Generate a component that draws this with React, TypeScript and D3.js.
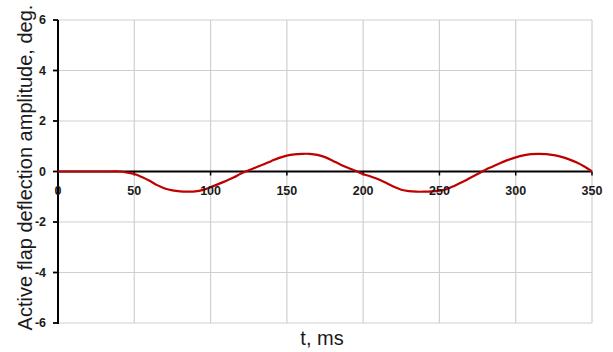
import React from "react";
import * as d3 from "d3";

const times: number[] = [
  0, 5, 10, 15, 20, 25, 30, 35, 40, 45, 50, 55, 60, 65, 70, 75, 80, 85, 90, 95,
  100, 105, 110, 115, 120, 125, 130, 135, 140, 145, 150, 155, 160, 165, 170, 175,
  180, 185, 190, 195, 200, 205, 210, 215, 220, 225, 230, 235, 240, 245, 250, 255,
  260, 265, 270, 275, 280, 285, 290, 295, 300, 305, 310, 315, 320, 325, 330, 335,
  340, 345, 350,
];
const amplitude: number[] = [
  0, 0, 0, 0, 0, 0, 0, 0, 0, -0.04, -0.1, -0.22, -0.37, -0.54, -0.67, -0.75, -0.79, -0.8, -0.79, -0.73,
  -0.62, -0.5, -0.38, -0.24, -0.08, 0.05, 0.17, 0.29, 0.42, 0.54, 0.63, 0.68, 0.7, 0.7, 0.66, 0.57,
  0.43, 0.28, 0.15, 0.03, -0.1, -0.2, -0.31, -0.45, -0.6, -0.72, -0.78, -0.8, -0.8, -0.79, -0.76, -0.69,
  -0.56, -0.42, -0.26, -0.1, 0.06, 0.2, 0.34, 0.46, 0.56, 0.64, 0.69, 0.7, 0.69, 0.65, 0.58, 0.48,
  0.36, 0.2, 0.0,
];
const xTicks: number[] = [0, 50, 100, 150, 200, 250, 300, 350];
const yTicks: number[] = [-6, -4, -2, 0, 2, 4, 6];
const xTitle = "t, ms";
const yTitle = "Active flap deflection amplitude, deg.";

const W = 613;
const H = 352;
const M = { left: 58, right: 592, top: 20, bottom: 323 };

export default function App() {
  const x = d3.scaleLinear().domain([0, 350]).range([M.left, M.right]);
  const y = d3.scaleLinear().domain([-6, 6]).range([M.bottom, M.top]);
  const pts: [number, number][] = times.map((t, i) => [t, amplitude[i]]);
  const line = d3
    .line<[number, number]>()
    .x((d) => x(d[0]))
    .y((d) => y(d[1]))
    .curve(d3.curveCatmullRom.alpha(0.5));
  const tickFont = "'Liberation Sans', Arial, sans-serif";
  return (
    <svg
      width={W}
      height={H}
      style={{ position: "absolute", left: 0, top: 0, background: "#fff" }}
    >
      {xTicks.filter((t) => t > 0).map((t) => (
        <line key={"gx" + t} x1={x(t)} x2={x(t)} y1={y(6)} y2={y(-6)} stroke="#cfcfcf" strokeWidth={1.2} />
      ))}
      {yTicks.map((t) => (
        <line key={"gy" + t} x1={x(0)} x2={x(350)} y1={y(t)} y2={y(t)} stroke="#cfcfcf" strokeWidth={1.2} />
      ))}
      <line x1={x(0)} x2={x(350)} y1={y(0)} y2={y(0)} stroke="#000" strokeWidth={1.8} />
      {xTicks.map((t) => (
        <line key={"tx" + t} x1={x(t)} x2={x(t)} y1={y(0)} y2={y(0) + 4} stroke="#000" strokeWidth={1.5} />
      ))}
      <line x1={x(0)} x2={x(0)} y1={y(6)} y2={y(-6) + 1} stroke="#000" strokeWidth={2} />
      {yTicks.map((t) => (
        <line key={"ty" + t} x1={x(0) - 5} x2={x(0)} y1={y(t)} y2={y(t)} stroke="#000" strokeWidth={1.8} />
      ))}
      <path d={line(pts) || ""} fill="none" stroke="#c00000" strokeWidth={2.2} strokeLinejoin="round" />
      {yTicks.map((t) => (
        <text
          key={"ly" + t}
          x={x(0) - 12}
          y={y(t)}
          dy="0.35em"
          textAnchor="end"
          fontFamily={tickFont}
          fontWeight="bold"
          fontSize={12.5}
          fill="#1a1a1a"
        >
          {t}
        </text>
      ))}
      {xTicks.map((t) => (
        <text
          key={"lx" + t}
          x={x(t)}
          y={y(0) + 23}
          textAnchor="middle"
          fontFamily={tickFont}
          fontWeight="bold"
          fontSize={12.5}
          fill="#1a1a1a"
        >
          {t}
        </text>
      ))}
      <text x={322} y={345} textAnchor="middle" fontFamily={tickFont} fontSize={20} fill="#1a1a1a">
        {xTitle}
      </text>
      <text
        transform={`translate(31.5, 167.5) rotate(-90)`}
        textAnchor="middle"
        fontFamily={tickFont}
        fontSize={20}
        fill="#1a1a1a"
      >
        {yTitle}
      </text>
    </svg>
  );
}
